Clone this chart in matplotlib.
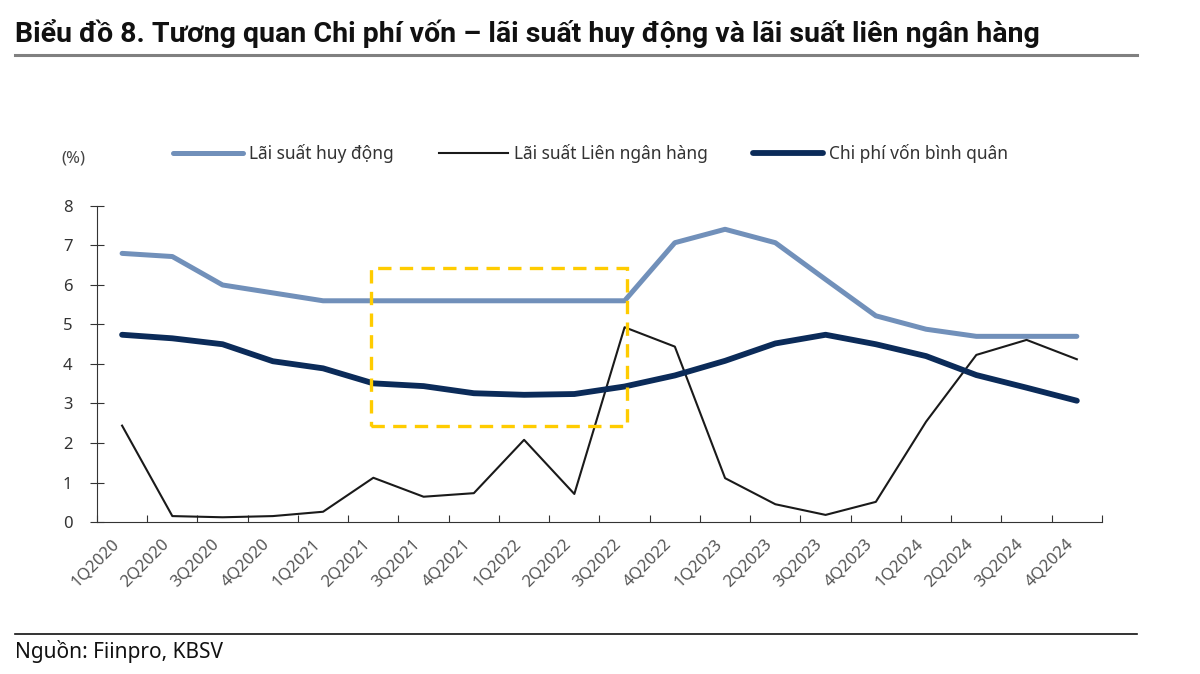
import matplotlib.pyplot as plt
from matplotlib.lines import Line2D
from matplotlib.patches import Rectangle
from matplotlib.transforms import ScaledTranslation

plt.rcParams['font.family'] = ['Noto Sans', 'DejaVu Sans']

quarters = ['1Q2020', '2Q2020', '3Q2020', '4Q2020', '1Q2021', '2Q2021', '3Q2021', '4Q2021',
            '1Q2022', '2Q2022', '3Q2022', '4Q2022', '1Q2023', '2Q2023', '3Q2023', '4Q2023',
            '1Q2024', '2Q2024', '3Q2024', '4Q2024']
lai_suat_huy_dong = [6.8, 6.72, 6.0, 5.8, 5.6, 5.6, 5.6, 5.6, 5.6, 5.6,
                     5.6, 7.07, 7.41, 7.07, 6.14, 5.22, 4.88, 4.7, 4.7, 4.7]
lai_suat_lnh = [2.44, 0.15, 0.12, 0.15, 0.26, 1.12, 0.64, 0.73, 2.08, 0.71,
                4.93, 4.44, 1.11, 0.45, 0.18, 0.51, 2.54, 4.23, 4.61, 4.12]
chi_phi_von = [4.74, 4.65, 4.5, 4.07, 3.89, 3.51, 3.44, 3.26, 3.22, 3.24,
               3.43, 3.71, 4.08, 4.52, 4.74, 4.5, 4.2, 3.72, 3.4, 3.07]

c_huy_dong = '#7190BA'
c_lnh = '#1A1A1A'
c_chi_phi = '#0B2B59'

fig = plt.figure(figsize=(12, 6.74), dpi=100)
ax = fig.add_axes([0.0808, 0.2255, 0.8375, 0.4689])

x = list(range(len(quarters)))
ax.plot(x, lai_suat_huy_dong, color=c_huy_dong, lw=3.6, solid_joinstyle='round',
        solid_capstyle='round', label='Lãi suất huy động')
ax.plot(x, lai_suat_lnh, color=c_lnh, lw=1.5, label='Lãi suất Liên ngân hàng')
ax.plot(x, chi_phi_von, color=c_chi_phi, lw=4.2, solid_joinstyle='round',
        solid_capstyle='round', label='Chi phí vốn bình quân')

# highlight box
ax.add_patch(Rectangle((4.95, 2.42), 5.1, 4.02, fill=False, ec='#FFCC00',
                       lw=2.4, ls=(0, (4, 2.5)), zorder=5))

ax.set_xlim(-0.5, len(quarters) - 0.5)
ax.set_ylim(0, 8)
ax.set_yticks(range(0, 9))
ax.set_xticks([i - 0.5 for i in range(len(quarters) + 1)], minor=False)
ax.set_xticklabels([])
ax.set_xticks(x, minor=True)
ax.set_xticklabels(quarters, minor=True, rotation=45, ha='right', va='center',
                   rotation_mode='anchor', fontsize=12, color='#555555')
ax.tick_params(axis='x', which='minor', length=0, pad=14)
ax.tick_params(axis='x', which='major', direction='in', length=5, color='#333333')
ax.tick_params(axis='y', direction='inout', length=9.4, color='#333333',
               labelsize=12, labelcolor='#333333', pad=13)
shift = ScaledTranslation(-4 / 72, 0, fig.dpi_scale_trans)
for lbl in ax.get_xticklabels(minor=True):
    lbl.set_transform(lbl.get_transform() + shift)

for s in ['top', 'right']:
    ax.spines[s].set_visible(False)
ax.spines['left'].set_color('#333333')
ax.spines['bottom'].set_color('#333333')

fig.text(0.051, 0.765, '(%)', fontsize=12, color='#444444', ha='left', va='center')

leg = ax.legend(loc='lower center', bbox_to_anchor=(0.491, 1.085), ncol=3, frameon=False,
                fontsize=12.5, handlelength=4.0, columnspacing=2.6, handletextpad=0.35)
for t in leg.get_texts():
    t.set_color('#333333')

fig.text(0.0125, 0.951, 'Biểu đồ 8. Tương quan Chi phí vốn – lãi suất huy động và lãi suất liên ngân hàng',
         fontsize=20.5, fontweight='bold', family=['Roboto', 'DejaVu Sans'],
         color='#111111', ha='left', va='center')
fig.add_artist(Line2D([0.0125, 0.9475], [0.918, 0.918], color='#808080', lw=2.2))
fig.add_artist(Line2D([0.0125, 0.9475], [0.059, 0.059], color='#111111', lw=1.2))
fig.text(0.0125, 0.033, 'Nguồn: Fiinpro, KBSV', fontsize=15, color='#111111',
         ha='left', va='center')

fig.savefig('out.png', dpi=100)
